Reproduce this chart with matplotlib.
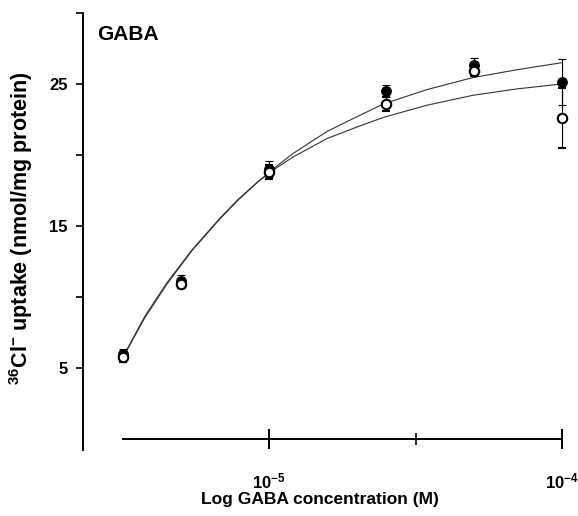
import matplotlib
matplotlib.use('Agg')
import matplotlib.pyplot as plt
import numpy as np

plt.rcParams['font.family'] = ['Liberation Sans', 'DejaVu Sans']
plt.rcParams['font.weight'] = 'bold'
plt.rcParams['mathtext.fontset'] = 'custom'
plt.rcParams['mathtext.rm'] = 'Liberation Sans:bold'
plt.rcParams['mathtext.bf'] = 'Liberation Sans:bold'
plt.rcParams['mathtext.default'] = 'bf'

# GABA concentration (M) and 36Cl- uptake (nmol/mg protein)
conc = [10**-5.5, 5e-6, 1e-5, 2.5e-5, 5e-5, 1e-4]
uptake_filled = [6.0, 11.1, 19.0, 24.5, 26.3, 25.15]
err_filled = [0.3, 0.45, 0.55, 0.4, 0.5, 1.6]
uptake_open = [5.75, 10.9, 18.8, 23.6, 25.9, 22.6]
err_open = [0.35, 0.3, 0.5, 0.5, 0.35, 2.1]

# fitted curves (log10 of concentration)
curve_log = [-5.491, -5.423, -5.348, -5.263, -5.167, -5.106, -5.038, -4.980,
             -4.918, -4.802, -4.689, -4.608, -4.461, -4.304, -4.154, -4.0]
curve_filled = [6.0, 8.55, 10.9, 13.25, 15.5, 16.8, 18.1, 19.1,
                20.1, 21.65, 22.8, 23.6, 24.6, 25.45, 26.0, 26.5]
curve_open = [6.05, 8.65, 11.0, 13.3, 15.55, 16.85, 18.1, 19.0,
              19.85, 21.15, 22.05, 22.65, 23.5, 24.2, 24.65, 25.0]

fig = plt.figure(figsize=(5.78, 5.16), dpi=100)
ax = fig.add_axes([83/578, 1-450/516, 479/578, 437/516])
ax.set_xscale('log')
ax.set_xlim(10**(-5 - 186/293), 1e-4)
ax.set_ylim(-0.8, 30)

cx = 10**np.array(curve_log)
ax.plot(cx, curve_filled, color='#333333', lw=0.8, clip_on=False)
ax.plot(cx, curve_open, color='#333333', lw=0.8, clip_on=False)

ax.errorbar(conc, uptake_filled, yerr=err_filled, fmt='o', color='black',
            ms=6.8, mfc='black', mec='black', elinewidth=0.8, capsize=2.8,
            capthick=0.8, clip_on=False, zorder=3)
ax.errorbar(conc, uptake_open, yerr=err_open, fmt='o', color='black',
            ms=6.8, mfc='white', mec='black', mew=1.5, elinewidth=0.8,
            capsize=2.8, capthick=0.8, clip_on=False, zorder=4)

for s in ['top', 'right']:
    ax.spines[s].set_visible(False)
ax.spines['left'].set_bounds(-0.8, 30)
ax.spines['left'].set_linewidth(1.4)
ax.spines['bottom'].set_position(('data', 0))
ax.spines['bottom'].set_bounds(10**-5.5, 1e-4)
ax.spines['bottom'].set_linewidth(1.4)

ax.set_yticks([5, 10, 15, 20, 25, 30])
ax.set_yticklabels(['5', '', '15', '', '25', ''])
ax.tick_params(axis='y', direction='out', length=5, width=1.2, pad=6,
               labelsize=12)

ax.set_xticks([1e-5, 1e-4])
ax.set_xticklabels([r'$10^{-5}$', r'$10^{-4}$'])
ax.set_xticks([10**-4.5], minor=True)
ax.xaxis.set_minor_formatter(matplotlib.ticker.NullFormatter())
ax.tick_params(axis='x', which='major', direction='inout', length=15,
               width=1.4, pad=16, labelsize=12)
ax.tick_params(axis='x', which='minor', direction='inout', length=8.5,
               width=1.2)

ax.set_xlabel('Log GABA concentration (M)', fontsize=12.5, fontweight='bold')
ax.xaxis.set_label_coords(0.495, -0.095)
ax.set_ylabel(r'$^{36}$Cl$^{-}$ uptake (nmol/mg protein)', fontsize=15.5,
              fontweight='bold')
ax.yaxis.set_label_coords(-0.1, 0.508)

ax.text(0.029, 0.938, 'GABA', transform=ax.transAxes, fontsize=15,
        fontweight='bold', va='baseline')

fig.savefig('out.png', dpi=100)
